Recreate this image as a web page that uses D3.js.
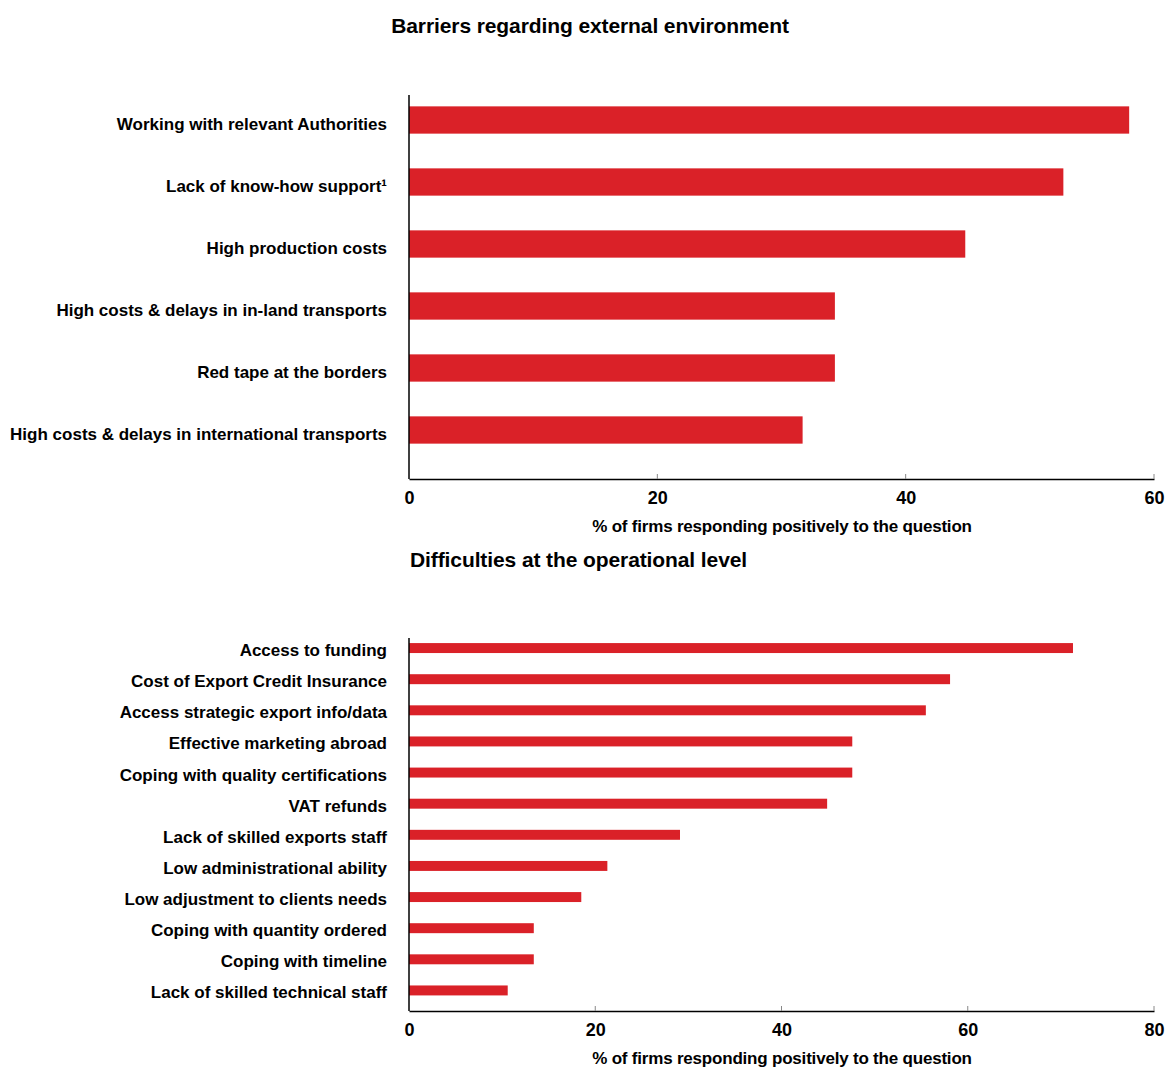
<!DOCTYPE html>
<html><head><meta charset="utf-8">
<script src="https://cdn.jsdelivr.net/npm/d3@7"></script>
<style>body{margin:0;background:#fff}text{font-family:"Liberation Sans",Arial,sans-serif}</style>
</head><body><svg id="c" width="1170" height="1070"></svg>
<script>
const topCats = ["Working with relevant Authorities","Lack of know-how support¹","High production costs","High costs & delays in in-land transports","Red tape at the borders","High costs & delays in international transports"];
const topVals = [58.0,52.7,44.8,34.3,34.3,31.7];
const topTicks = [0,20,40,60];
const botCats = ["Access to funding","Cost of Export Credit Insurance","Access strategic export info/data","Effective marketing abroad","Coping with quality certifications","VAT refunds","Lack of skilled exports staff","Low administrational ability","Low adjustment to clients needs","Coping with quantity ordered","Coping with timeline","Lack of skilled technical staff"];
const botVals = [71.3,58.1,55.5,47.6,47.6,44.9,29.1,21.3,18.5,13.4,13.4,10.6];
const botTicks = [0,20,40,60,80];
const svg = d3.select("#c");
const RED = "#da2128";

function panel(o){
  const x = d3.scaleLinear().domain([0,o.max]).range([409,1154]);
  const y = d3.scaleBand().domain(o.cats).range([o.b0,o.b1]).paddingInner(o.pad).paddingOuter(o.pad/2);
  const g = svg.append("g");
  g.append("text").attr("x",o.tx).attr("y",o.ty).attr("text-anchor",o.ta).attr("font-size",21).attr("font-weight","bold").attr("letter-spacing","-0.1").text(o.title);
  g.selectAll("rect").data(o.vals).join("rect").attr("x",x(0)).attr("y",(d,i)=>y(o.cats[i])).attr("width",d=>x(d)-x(0)).attr("height",y.bandwidth()).attr("fill",RED);
  g.selectAll(".lab").data(o.cats).join("text").attr("x",387).attr("y",d=>y(d)+y.bandwidth()/2+o.ly).attr("dy","0.35em").attr("text-anchor","end").attr("font-size",17).attr("font-weight","bold").attr("letter-spacing","0").text(d=>d);
  const ax = d3.axisBottom(x).tickValues(o.ticks).tickSize(0).tickPadding(12);
  const a = g.append("g").attr("transform",`translate(0,${o.y1})`).call(ax);
  a.select(".domain").attr("stroke","#000").attr("stroke-width",1.5);
  a.selectAll("text").attr("font-size",18).attr("font-weight","bold").attr("fill","#000");
  g.selectAll(".tk").data(o.ticks.slice(1)).join("line").attr("x1",d=>x(d)).attr("x2",d=>x(d)).attr("y1",o.y1).attr("y2",o.y1-5).attr("stroke","#888");
  g.append("line").attr("x1",409).attr("x2",409).attr("y1",o.y0).attr("y2",o.y1).attr("stroke","#000").attr("stroke-width",1.5);
  g.append("text").attr("x",782).attr("y",o.y1+53).attr("text-anchor","middle").attr("font-size",17).attr("font-weight","bold").attr("letter-spacing","-0.2").text("% of firms responding positively to the question");
}
panel({title:"Barriers regarding external environment",tx:590,ty:33,ta:"middle",cats:topCats,vals:topVals,ticks:topTicks,max:60,y0:95,y1:479,b0:89,b1:461,pad:0.56,ly:4});
panel({title:"Difficulties at the operational level",tx:410,ty:567,ta:"start",cats:botCats,vals:botVals,ticks:botTicks,max:80,y0:638,y1:1011,b0:632.5,b1:1006,pad:0.68,ly:2});
</script></body></html>
